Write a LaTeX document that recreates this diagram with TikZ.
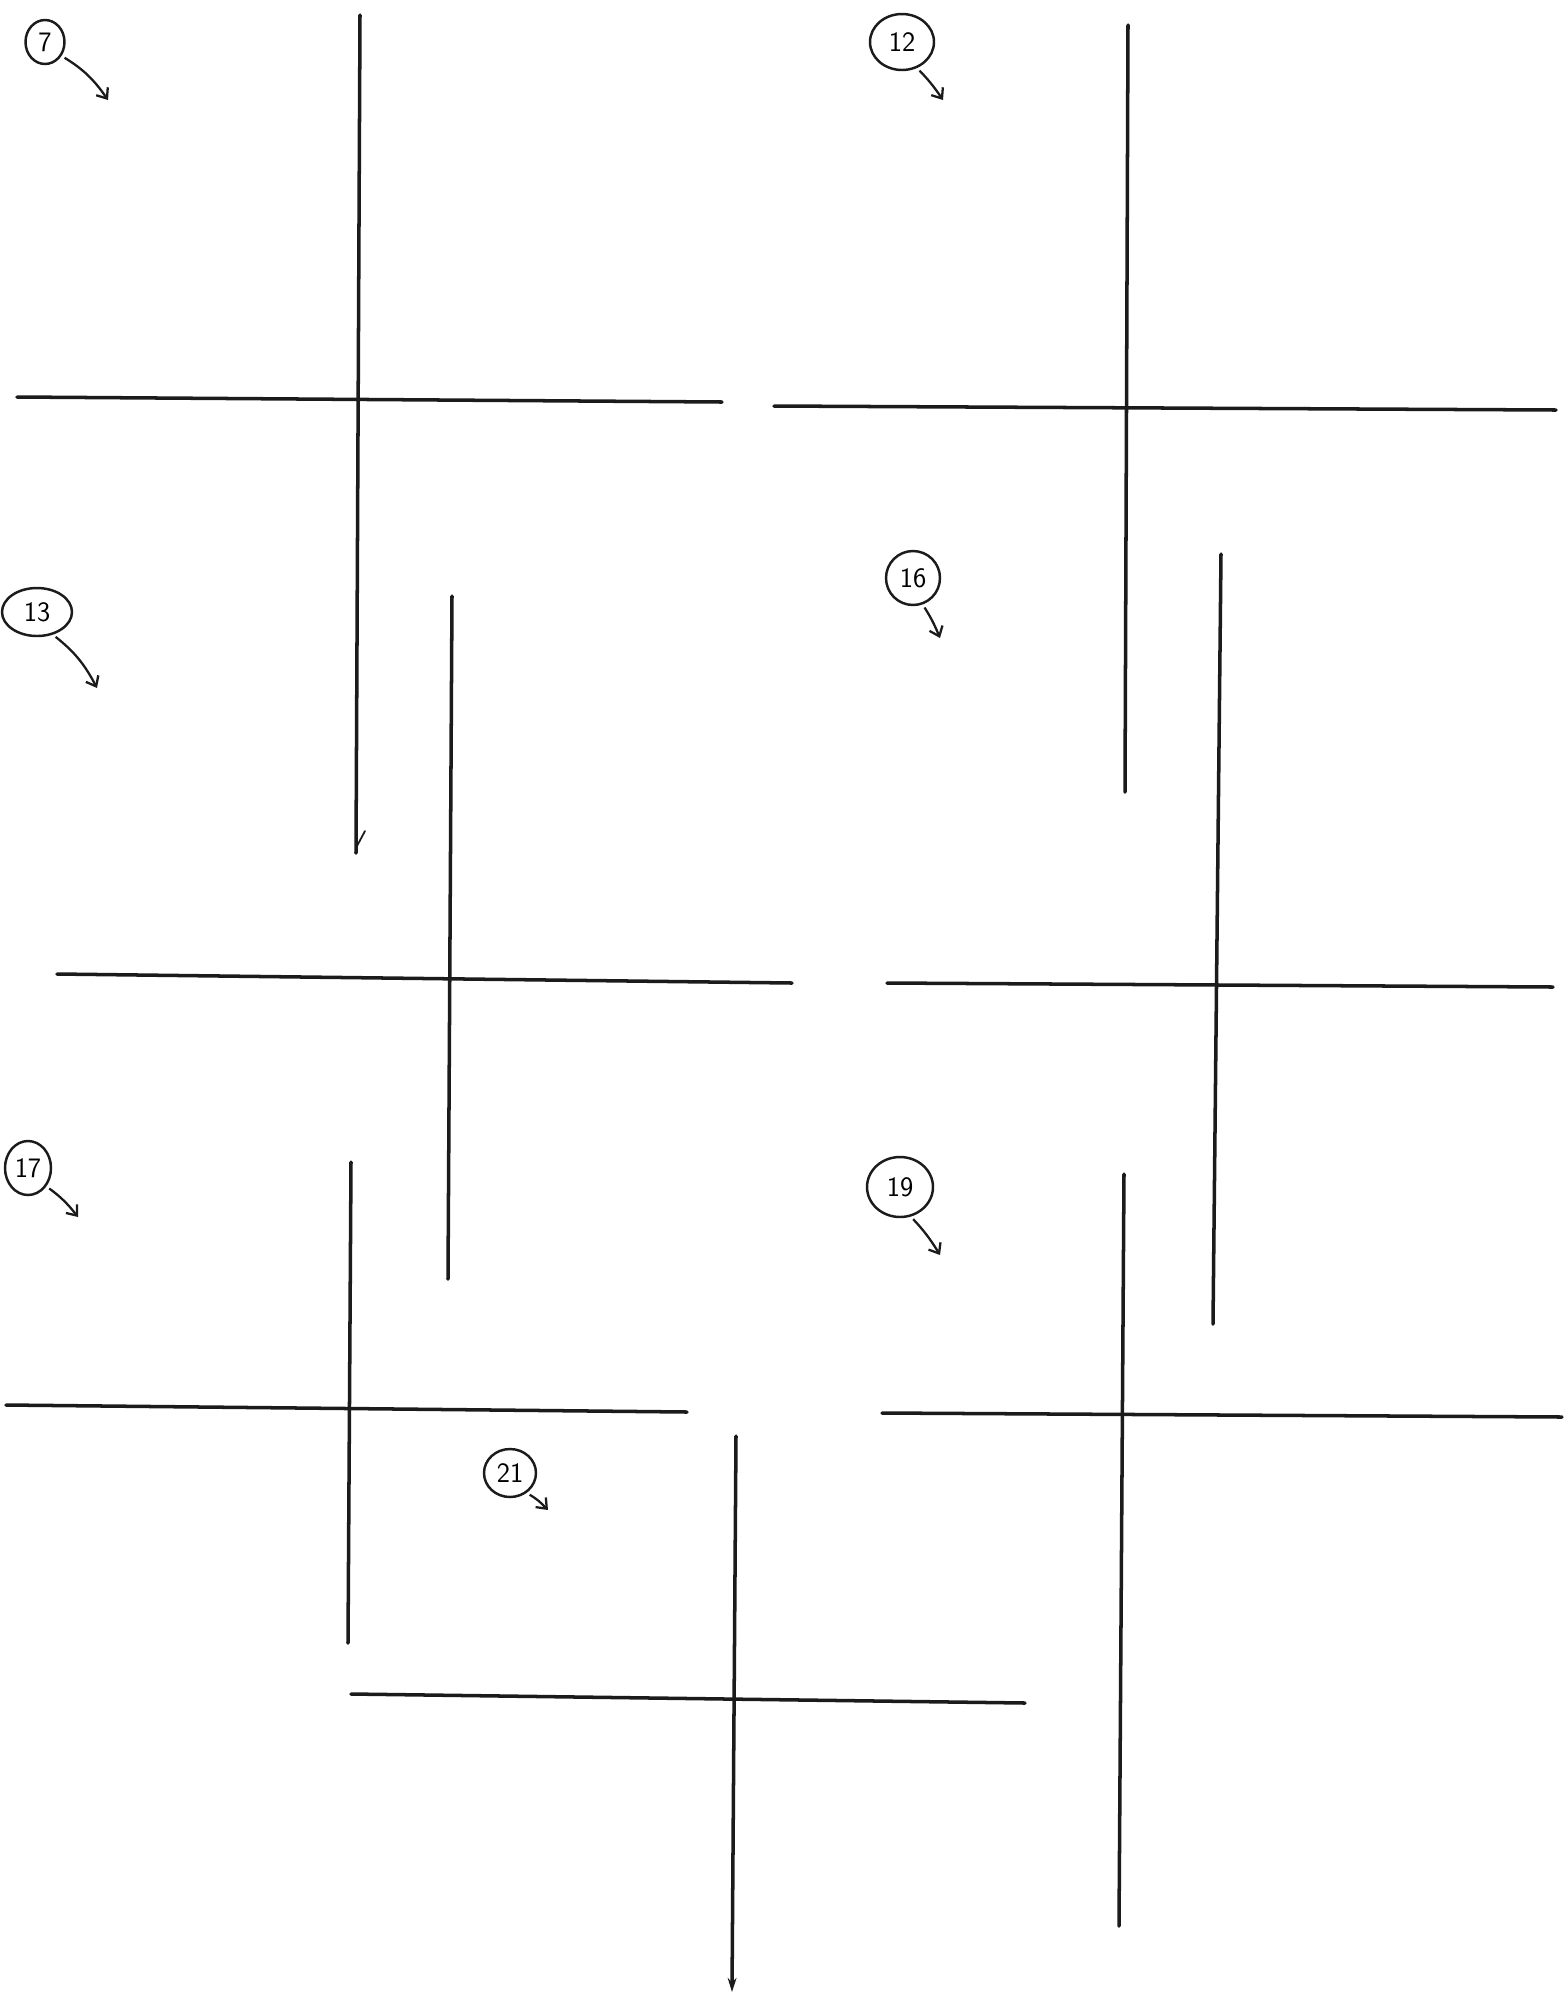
\documentclass[tikz,border=0pt]{standalone}
\usetikzlibrary{arrows.meta,shapes.geometric}
\definecolor{Ink}{HTML}{1B1B1B}
\tikzset{
  wall/.style={line width=2pt,Ink,line cap=round},
  tag/.style={ellipse,draw=Ink,line width=1.4pt,inner sep=0pt,font=\sffamily\fontsize{16}{16}\selectfont},
  pointer/.style={line width=1.3pt,Ink,shorten <=2pt,-{Straight Barb[length=5pt,width=8pt]}}
}

\begin{document}
\begin{tikzpicture}[x=0.02cm,y=-0.02cm]
    \useasboundingbox (0,0) rectangle (1567,1996);
    % crosses
    \draw[wall] (360,15)--(356,853);
    \draw[wall] (17,397)--(722,402);
    \draw[wall,line width=1pt] (357,846)--(365,831);
    \draw[wall] (1128,25)--(1125,792);
    \draw[wall] (774,406)--(1556,410);
    \draw[wall] (452,596)--(448,1279);
    \draw[wall] (57,974)--(792,983);
    \draw[wall] (1221,554)--(1213,1324);
    \draw[wall] (887,983)--(1553,987);
    \draw[wall] (351,1162)--(348,1643);
    \draw[wall] (6,1405)--(687,1412);
    \draw[wall] (1124,1174)--(1119,1926);
    \draw[wall] (882,1413)--(1562,1417);
    \draw[wall,-{Stealth[length=8pt,width=5pt]}] (736,1436)--(732,1992);
    \draw[wall] (351,1694)--(1025,1703);
    % tags
    \node[tag,minimum width=0.78cm,minimum height=0.88cm] (t7) at (45,42) {7};
    \node[tag,minimum width=1.28cm,minimum height=1.12cm] (t12) at (902,42) {12};
    \node[tag,minimum width=1.4cm,minimum height=0.96cm] (t13) at (37,612) {13};
    \node[tag,minimum width=1.08cm,minimum height=1.08cm] (t16) at (913,578) {16};
    \node[tag,minimum width=0.92cm,minimum height=1.08cm] (t17) at (28,1168) {17};
    \node[tag,minimum width=1.32cm,minimum height=1.2cm] (t19) at (900,1187) {19};
    \node[tag,minimum width=1.04cm,minimum height=0.96cm] (t21) at (510,1473) {21};
    \coordinate (p7) at (108,100);
    \coordinate (p12) at (943,100);
    \coordinate (p13) at (97,688);
    \coordinate (p16) at (940,638);
    \coordinate (p17) at (78,1217);
    \coordinate (p19) at (940,1255);
    \coordinate (p21) at (548,1510);
    \draw[pointer] (t7.-40) to[bend left=12] (p7);
    \draw[pointer] (t12.-60) to[bend left=5] (p12);
    \draw[pointer] (t13.-55) to[bend left=12] (p13);
    \draw[pointer] (t16.-70) to[bend left=5] (p16);
    \draw[pointer] (t17.-45) to[bend left=8] (p17);
    \draw[pointer] (t19.-70) to[bend left=6] (p19);
    \draw[pointer] (t21.-50) to[bend left=8] (p21);
\end{tikzpicture}
\end{document}
